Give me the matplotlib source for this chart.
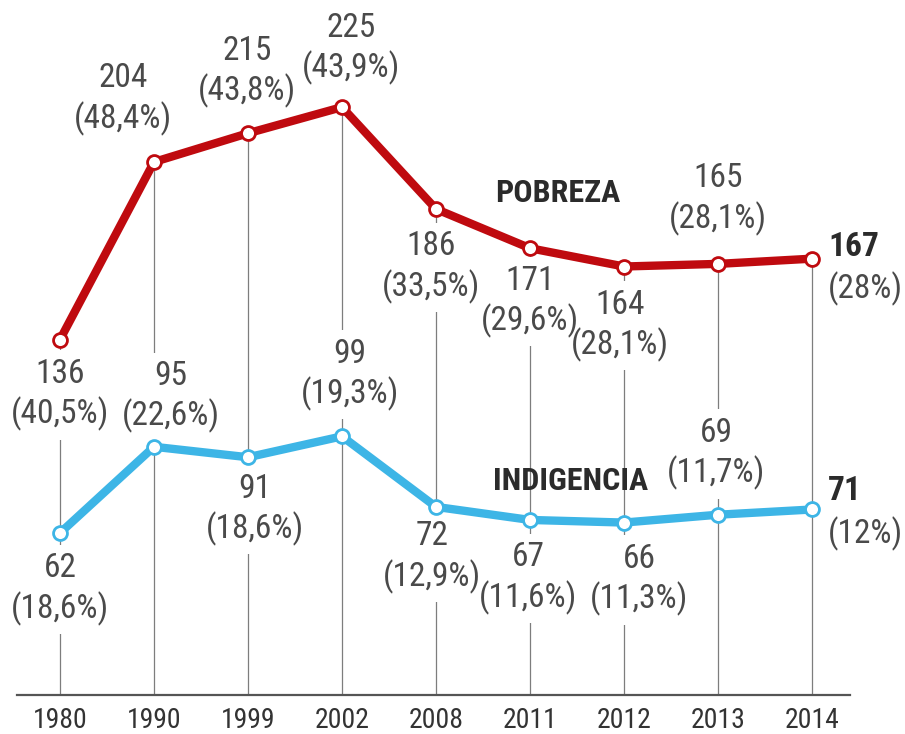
#!/usr/bin/env python3
"""
Pobreza e indigencia 1980-2014: dos series sobre el mismo eje, con etiquetas
de valor y porcentaje en cada punto.
"""

import matplotlib
matplotlib.use('Agg')
import matplotlib.pyplot as plt
from matplotlib import font_manager as fm


years = ['1980', '1990', '1999', '2002', '2008', '2011', '2012', '2013', '2014']

pobreza = [136, 204, 215, 225, 186, 171, 164, 165, 167]
pobreza_pct = ['40,5%', '48,4%', '43,8%', '43,9%', '33,5%', '29,6%', '28,1%', '28,1%', '28%']

indigencia = [62, 95, 91, 99, 72, 67, 66, 69, 71]
indigencia_pct = ['18,6%', '22,6%', '18,6%', '19,3%', '12,9%', '11,6%', '11,3%', '11,7%', '12%']

# desplazamiento de cada etiqueta respecto a su punto (pixeles)
pobreza_offsets = [(0, -55), (-31, 63), (-1, 62), (9, 59), (-5, -58),
                   (0, -53), (-4, -59), (0, 65), (16, -9)]
indigencia_offsets = [(0, -56), (17, 50), (7, -52), (8, 62), (-4, -50),
                      (-2, -58), (15, -57), (-2, 61), (16, -3)]

RED = '#bf0a0f'
BLUE = '#3db5e6'
TEXT = '#4a4a4a'
DARK = '#2b2b2b'


def _is_bold(w):
    if isinstance(w, str):
        return w in ('bold', 'heavy', 'black', 'demibold', 'semibold', 'extra bold')
    return w >= 600


def find_narrow(bold):
    """
    Busca una fuente condensada instalada; None si no hay ninguna
    """
    prefs = ['Liberation Sans Narrow', 'Roboto Condensed', 'Open Sans Condensed',
             'Noto Sans', 'DejaVu Sans', 'Open Sans', 'Roboto', 'Lato']
    for name in prefs:
        for f in fm.fontManager.ttflist:
            if f.name != name or f.style != 'normal':
                continue
            if f.stretch not in ('condensed', 'semi-condensed', 'extra-condensed'):
                continue
            if _is_bold(f.weight) == bold:
                return f.fname
    return None


def make_fonts():
    reg = find_narrow(False)
    bold = find_narrow(True)
    if reg and bold:
        return (fm.FontProperties(fname=reg), fm.FontProperties(fname=bold), 1.0)
    # sin fuente estrecha: Liberation Sans algo mas pequena
    return (fm.FontProperties(family=['Liberation Sans', 'DejaVu Sans']),
            fm.FontProperties(family=['Liberation Sans', 'DejaVu Sans'], weight='bold'),
            0.84)


FP_REG, FP_BOLD, SCALE = make_fonts()
LABEL_SIZE = 24 * SCALE


def label_points(ax, values, pcts, offsets):
    last = len(values) - 1
    for i, (v, p, (dx, dy)) in enumerate(zip(values, pcts, offsets)):
        if i == last:
            # ultimo punto: valor en negrita, alineado a la izquierda
            ax.annotate(f'{v}', xy=(i, v), xytext=(dx, dy + 21),
                        textcoords='offset pixels', ha='left', va='center',
                        fontproperties=FP_BOLD, fontsize=LABEL_SIZE, color=DARK,
                        zorder=2.5)
            ax.annotate(f'({p})', xy=(i, v), xytext=(dx, dy - 21),
                        textcoords='offset pixels', ha='left', va='center',
                        fontproperties=FP_REG, fontsize=LABEL_SIZE, color=TEXT,
                        zorder=2.5)
            continue
        kw = dict(xy=(i, v), xytext=(dx, dy), textcoords='offset pixels',
                  ha='center', va='center', fontproperties=FP_REG,
                  fontsize=LABEL_SIZE, linespacing=1.25)
        # caja blanca (texto invisible) que corta la linea guia
        ax.annotate(f'{v}\n({p})', color='none', zorder=2,
                    bbox=dict(boxstyle='square,pad=0.25', fc='white', ec='none'), **kw)
        ax.annotate(f'{v}\n({p})', color=TEXT, zorder=2.5, **kw)


def main():
    fig = plt.figure(figsize=(9.05, 7.34), dpi=100)
    ax = fig.add_axes([0, 39 / 734, 1, 695 / 734])

    x = list(range(len(years)))

    # lineas guia grises desde la base hasta el punto de pobreza
    ax.vlines(x, 0, pobreza, color='#7d7d7d', lw=0.9, zorder=1)

    for vals, color in ((pobreza, RED), (indigencia, BLUE)):
        ax.plot(x, vals, color=color, lw=6, solid_joinstyle='round',
                solid_capstyle='round', zorder=3)
        ax.plot(x, vals, 'o', ms=10, mfc='white', mec=color, mew=2, zorder=4)

    label_points(ax, pobreza, pobreza_pct, pobreza_offsets)
    label_points(ax, indigencia, indigencia_pct, indigencia_offsets)

    ax.text(5.30, 192, 'POBREZA', ha='center', va='center',
            fontproperties=FP_BOLD, fontsize=23 * SCALE, color=DARK, zorder=2.5)
    ax.text(5.43, 82, 'INDIGENCIA', ha='center', va='center',
            fontproperties=FP_BOLD, fontsize=23 * SCALE, color=DARK, zorder=2.5)

    ax.set_xlim(-0.638, 8.989)
    ax.set_ylim(0, 266)

    for side in ('top', 'left', 'right'):
        ax.spines[side].set_visible(False)
    ax.spines['bottom'].set_bounds(-0.457, 8.40)
    ax.spines['bottom'].set_color('#555555')
    ax.spines['bottom'].set_linewidth(1.6)

    ax.set_yticks([])
    ax.set_xticks(x)
    ax.set_xticklabels(years, color='#333333')
    for t in ax.get_xticklabels():
        t.set_fontproperties(FP_REG)
        t.set_fontsize(20 * SCALE)
    ax.tick_params(axis='x', length=0, pad=9)

    fig.savefig('out.png', dpi=100, facecolor='white')
    plt.close(fig)
    print('guardado: out.png')


if __name__ == '__main__':
    main()
